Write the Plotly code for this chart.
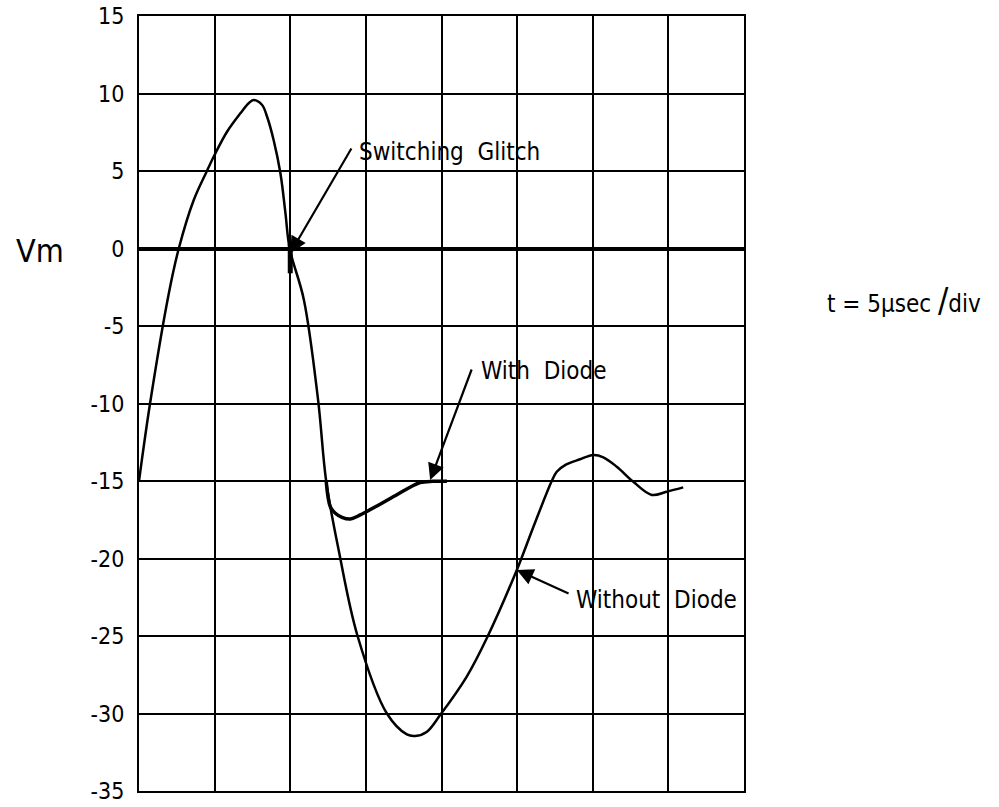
import plotly.graph_objects as go

# time in microseconds (5 us per division), voltage Vm
without_x = [0.0, 0.73, 1.97, 2.63, 3.62, 4.46, 5.0, 5.83, 6.7, 7.25, 7.58, 8.14, 8.47, 8.9, 9.35, 9.68, 9.96,
             10.9, 11.84, 12.38, 13.2, 14.45, 16.39, 17.71, 18.26, 19.04, 19.91,
             21.68, 23.04, 24.98, 26.08, 27.29, 27.62, 28.17, 29.16, 30.04, 30.7, 31.59,
             32.68, 33.9, 34.89, 35.98]
without_y = [-15.0, -10.0, -2.9, 0.0, 3.13, 4.94, 6.05, 7.55, 8.72, 9.37, 9.58, 9.26, 8.5, 7.0, 4.85, 2.3, 0.0,
             -3.3, -9.77, -15.05, -19.45, -25.0, -30.0, -31.35, -31.45, -31.17, -30.1,
             -27.6, -25.05, -20.74, -17.95, -15.0, -14.4, -13.97, -13.6, -13.32, -13.47, -14.08,
             -15.05, -15.9, -15.69, -15.41]

with_x = [12.38, 12.65, 12.98, 13.42, 13.97, 14.63, 15.73, 16.83, 17.93, 18.59, 19.4, 20.36]
with_y = [-15.05, -16.66, -17.08, -17.34, -17.45, -17.19, -16.61, -16.0, -15.4, -15.1, -15.02, -15.02]

glitch_x = [10.0, 10.0]
glitch_y = [0.3, -1.6]

y_ticks = [15, 10, 5, 0, -5, -10, -15, -20, -25, -30, -35]
y_ticktext = ["15", "10", "5", "0", "-5", "-10", "-15", "-20", "-25", "-30", "-35"]
x_ticks = [0, 5, 10, 15, 20, 25, 30, 35, 40]

FONT = "DejaVu Sans Condensed, DejaVu Sans, sans-serif"

fig = go.Figure()
fig.add_trace(go.Scatter(x=without_x, y=without_y, mode="lines",
                         line=dict(color="black", width=2.5, shape="spline", smoothing=1.0),
                         showlegend=False, hoverinfo="skip"))
fig.add_trace(go.Scatter(x=with_x, y=with_y, mode="lines",
                         line=dict(color="black", width=3.5, shape="spline", smoothing=1.0),
                         showlegend=False, hoverinfo="skip"))
fig.add_trace(go.Scatter(x=glitch_x, y=glitch_y, mode="lines", line=dict(color="black", width=5),
                         showlegend=False, hoverinfo="skip"))

fig.update_xaxes(range=[0, 40], tickvals=x_ticks, showticklabels=False, ticks="", automargin=False,
                 showgrid=True, gridcolor="black", gridwidth=2,
                 showline=True, linecolor="black", linewidth=2, mirror=True, zeroline=False)
fig.update_yaxes(range=[-35, 15], tickvals=y_ticks, ticktext=y_ticktext, ticks="", automargin=False,
                 showgrid=True, gridcolor="black", gridwidth=2, ticklabelstandoff=8,
                 ticklabeloverflow="allow",
                 zeroline=True, zerolinecolor="black", zerolinewidth=4,
                 showline=True, linecolor="black", linewidth=2, mirror=True,
                 tickfont=dict(family=FONT, size=23, color="black"))

ann = []
def arrow(tx, ty, ax, ay):
    ann.append(dict(x=tx, y=ty, ax=ax, ay=ay, xref="x", yref="y", axref="x", ayref="y",
                    text="", showarrow=True, arrowhead=2, arrowsize=1.5, arrowwidth=2.2, arrowcolor="black"))

arrow(10.0, -0.3, 14.1, 6.55)
arrow(19.25, -14.94, 22.03, -7.71)
arrow(24.98, -20.74, 28.5, -22.3)

def label(x, y, t, size=24):
    ann.append(dict(x=x, y=y, xref="x", yref="y", text=t, showarrow=False, xanchor="left", yanchor="middle",
                    font=dict(family=FONT, size=size, color="black")))

label(14.4, 6.2, "Switching  Glitch")
label(22.45, -7.9, "With  Diode")
label(28.75, -22.7, "Without  Diode")

ann.append(dict(x=-0.207, y=0.697, xref="paper", yref="paper", text="Vm", showarrow=False,
                xanchor="left", yanchor="middle", font=dict(family=FONT, size=32, color="black")))
ann.append(dict(x=1.134, y=0.634, xref="paper", yref="paper",
                text="t = 5µsec <span style='font-size:34px'>/</span>div", showarrow=False,
                xanchor="left", yanchor="middle", font=dict(family=FONT, size=24, color="black")))

fig.update_layout(width=999, height=807, margin=dict(l=138.5, r=255, t=16, b=16, autoexpand=False),
                  plot_bgcolor="white", paper_bgcolor="white", annotations=ann)

# remove the browser's default 8px body margin so the figure sits at the page origin
fig.write_html("out.html", config={"displayModeBar": False},
               post_script="document.body.style.margin='0';document.body.style.overflow='hidden';")
